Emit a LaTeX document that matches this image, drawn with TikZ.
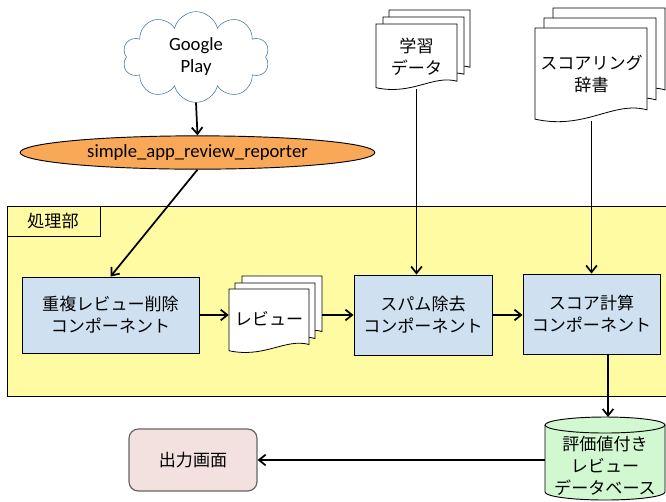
\documentclass[tikz,border=0pt]{standalone}
\usepackage{fontspec}
\setmainfont{Carlito}
\newfontfamily\jp{Noto Sans CJK JP}
\usetikzlibrary{shapes.geometric,shapes.symbols,arrows.meta}

\definecolor{cloudblue}{RGB}{65,113,156}
\definecolor{reporter}{RGB}{249,168,88}
\definecolor{procyellow}{RGB}{255,251,163}
\definecolor{compblue}{RGB}{207,224,241}
\definecolor{outpink}{RGB}{243,225,224}
\definecolor{dbgreen}{RGB}{210,248,210}

% one page of a document stack: x, y (top left), width, height
\newcommand\docpage[4]{%
  \draw[docline] (#1,#2) -- ({#1+#3},#2) -- ({#1+#3},{#2+0.88*#4})
    .. controls ({#1+0.7*#3},{#2+0.78*#4}) and ({#1+0.45*#3},{#2+1.1*#4}) ..
    (#1,{#2+0.98*#4}) -- cycle;}

\begin{document}
\begin{tikzpicture}[x=0.75pt, y=-0.75pt,
    arr/.style={-{Straight Barb[length=5pt,width=8pt]}, line width=1.3pt},
    docline/.style={draw, fill=white, line width=0.6pt},
    comp/.style={draw, fill=compblue, line width=0.7pt, inner sep=0pt,
      align=center, font=\jp\fontsize{12.8}{16.5}\selectfont},
    jtext/.style={align=center, font=\jp\fontsize{12.8}{16.5}\selectfont},
    ltext/.style={align=center, font=\fontsize{14}{16.5}\selectfont}]

    \useasboundingbox (0,0) rectangle (666,501);

    % 1. Processing area
    \draw[fill=procyellow, line width=0.7pt] (7,206) rectangle (672,396);
    \draw[line width=0.7pt] (7,206) rectangle (100,236);
    \node[jtext] (proc) at (53,221) {処理部};

    % 2. Google Play and the reporter
    \node[cloud, cloud puffs=10, aspect=1.6, draw=cloudblue, fill=white,
      minimum width=110pt, minimum height=68pt, ltext] (gplay) at (196,57) {Google\\Play};
    \node[ellipse, draw, fill=reporter, line width=0.7pt, inner sep=0pt,
      minimum width=266pt, minimum height=25pt, ltext] (rep) at (197.5,152.5)
      {simple\_app\_review\_reporter};

    % 3. Components
    \node[comp, minimum width=132.75pt, minimum height=57pt] (dedup) at (110.5,315)
      {重複レビュー削除\\コンポーネント};
    \node[comp, minimum width=103.5pt, minimum height=60pt] (spam) at (423,315)
      {スパム除去\\コンポーネント};
    \node[comp, minimum width=102.75pt, minimum height=60pt] (score) at (591.5,314)
      {スコア計算\\コンポーネント};

    % 4. Document stacks
    \docpage{242}{276}{80}{63}
    \docpage{235}{283}{80}{63}
    \docpage{229}{289}{80}{63}
    \node[jtext, minimum width=60pt, minimum height=40pt] (rev) at (269,319) {レビュー};
    \coordinate (revout) at (322,315);

    \docpage{389}{10}{81}{65}
    \docpage{383}{17}{81}{65}
    \docpage{376}{24}{81}{65}
    \node[jtext, minimum width=60pt, minimum height=48.75pt] (learn) at (416.5,56.5) {学習\\データ};

    \docpage{553}{8}{112}{93}
    \docpage{544}{18}{112}{93}
    \docpage{535}{28}{112}{93}
    \node[jtext, minimum width=84pt, minimum height=69pt] (dict) at (591.5,74.5) {スコアリング\\辞書};

    % 5. Database and output
    \draw[fill=dbgreen, line width=0.7pt] (545,425) -- (545,492)
      arc[start angle=180, end angle=0, x radius=60, y radius=8] -- (665,425);
    \draw[fill=dbgreen, line width=0.7pt] (605,425) ellipse[x radius=60, y radius=8];
    \node[jtext, minimum width=90pt] (db) at (605,466) {評価値付き\\レビュー\\データベース};
    \coordinate (dbtop) at (608,417);

    \node[draw=black!60, fill=outpink, rounded corners=7pt, line width=0.9pt,
      minimum width=96pt, minimum height=46.5pt, jtext] (out) at (193,460) {出力画面};

    % 6. Connectors
    \draw[arr] (gplay.south) -- (rep.north);
    \draw[arr] (rep.south) -- (dedup.north);
    \draw[arr] (dedup.east) -- (dedup.east -| rev.west);
    \draw[arr] (revout) -- (revout -| spam.west);
    \draw[arr] (spam.east) -- (spam.east -| score.west);
    \draw[arr] (learn.south) -- (learn.south |- spam.north);
    \draw[arr] (dict.south) -- (dict.south |- score.north);
    \draw[arr] (score.south -| dbtop) -- (dbtop);
    \draw[arr] (db.west |- out.east) -- (out.east);

\end{tikzpicture}
\end{document}
